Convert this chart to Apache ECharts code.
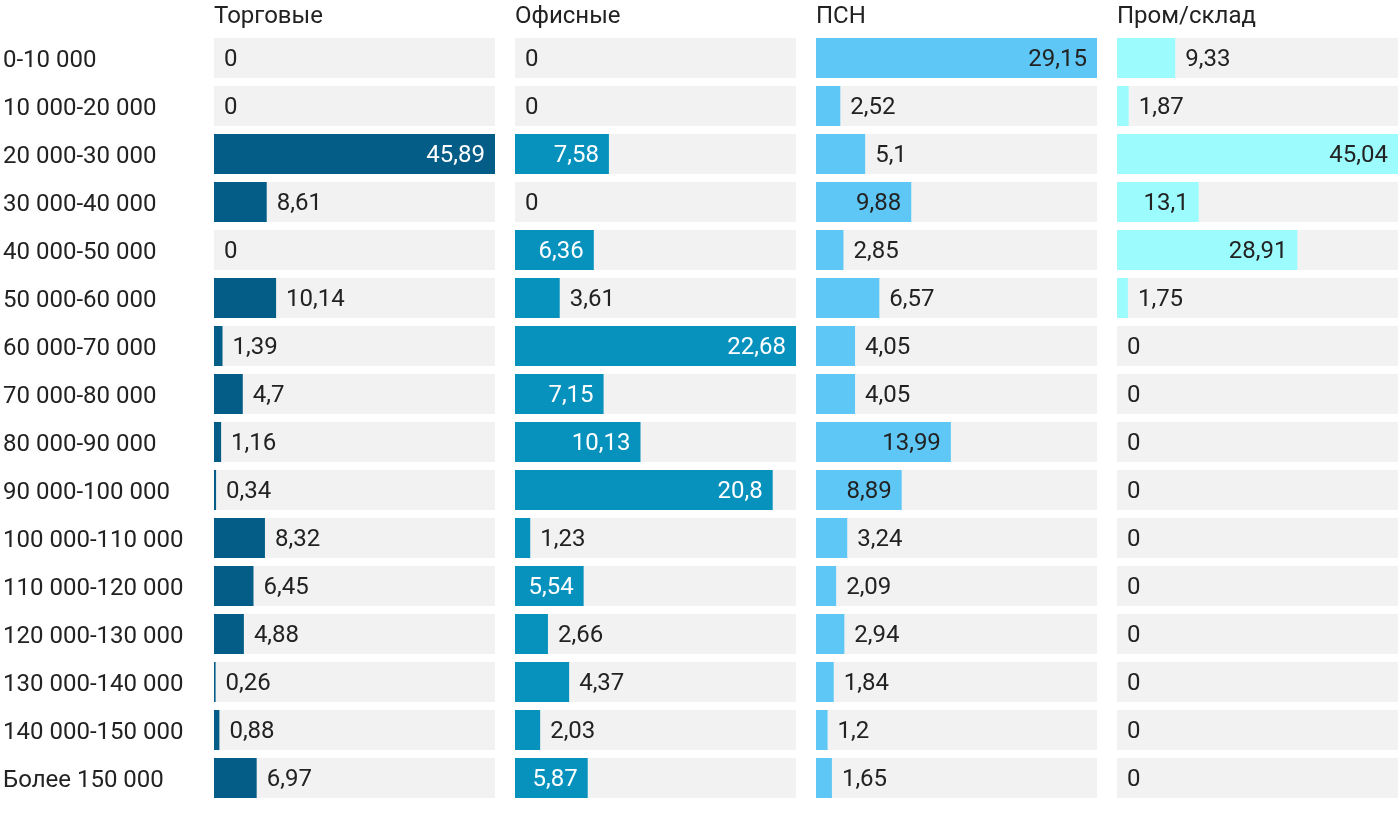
<!DOCTYPE html>
<html>
<head>
<meta charset="utf-8">
<script src="https://cdn.jsdelivr.net/npm/echarts@6/dist/echarts.min.js"></script>
<style>
  html, body { margin: 0; padding: 0; background: #fff; }
  #chart { width: 1400px; height: 814px; }
</style>
</head>
<body>
<div id="chart"></div>
<script>
const categories = [
  "0-10 000", "10 000-20 000", "20 000-30 000", "30 000-40 000",
  "40 000-50 000", "50 000-60 000", "60 000-70 000", "70 000-80 000",
  "80 000-90 000", "90 000-100 000", "100 000-110 000", "110 000-120 000",
  "120 000-130 000", "130 000-140 000", "140 000-150 000", "Более 150 000"
];
const panelTitles = ["Торговые", "Офисные", "ПСН", "Пром/склад"];
const torgovye = [0, 0, 45.89, 8.61, 0, 10.14, 1.39, 4.7, 1.16, 0.34, 8.32, 6.45, 4.88, 0.26, 0.88, 6.97];
const ofisnye = [0, 0, 7.58, 0, 6.36, 3.61, 22.68, 7.15, 10.13, 20.8, 1.23, 5.54, 2.66, 4.37, 2.03, 5.87];
const psn = [29.15, 2.52, 5.1, 9.88, 2.85, 6.57, 4.05, 4.05, 13.99, 8.89, 3.24, 2.09, 2.94, 1.84, 1.2, 1.65];
const promSklad = [9.33, 1.87, 45.04, 13.1, 28.91, 1.75, 0, 0, 0, 0, 0, 0, 0, 0, 0, 0];

const seriesData = [torgovye, ofisnye, psn, promSklad];
const barColors = ["#035d87", "#0792be", "#5ec7f5", "#9cfcfd"];
const insideText = ["#ffffff", "#ffffff", "#222222", "#222222"];

const chart = echarts.init(document.getElementById("chart"));

const panelLeft = 214, panelStep = 301, panelWidth = 281;
const fontFamily = "Roboto, sans-serif";
const textColor = "#222";
const fmt = v => String(v).replace(".", ",");

let grids = [], xAxes = [], yAxes = [], series = [], titles = [];

seriesData.forEach((vals, i) => {
  const max = Math.max.apply(null, vals);
  grids.push({ left: panelLeft + i * panelStep, width: panelWidth, top: 34, bottom: 12 });
  xAxes.push({ gridIndex: i, type: "value", min: 0, max: max, show: false });
  yAxes.push({
    gridIndex: i,
    type: "category",
    data: categories,
    inverse: true,
    axisLine: { show: false },
    axisTick: { show: false },
    splitLine: { show: false },
    axisLabel: {
      show: i === 0,
      align: "left",
      margin: 211,
      formatter: v => "{c|" + v + "}",
      rich: {
        c: {
          fontSize: 24,
          padding: [5, 0, 0, 0],
          color: textColor,
          fontFamily: fontFamily
        }
      }
    }
  });
  titles.push({
    text: panelTitles[i],
    left: panelLeft + i * panelStep,
    top: 5,
    padding: 0,
    textStyle: { fontSize: 24, fontWeight: "normal", color: textColor, fontFamily: fontFamily }
  });
  series.push({
    type: "bar",
    xAxisIndex: i,
    yAxisIndex: i,
    barWidth: 40,
    showBackground: true,
    backgroundStyle: { color: "#f2f2f2" },
    itemStyle: { color: barColors[i] },
    silent: true,
    data: vals.map(v => {
      const px = v / max * panelWidth;
      const inside = px >= 68;
      return {
        value: v,
        label: {
          show: true,
          position: inside ? "insideRight" : "right",
          distance: 10,
          offset: [0, 2],
          color: inside ? insideText[i] : textColor,
          fontSize: 24,
          fontFamily: fontFamily,
          formatter: p => fmt(p.value)
        }
      };
    })
  });
});

chart.setOption({
  animation: false,
  title: titles,
  grid: grids,
  xAxis: xAxes,
  yAxis: yAxes,
  series: series
});
</script>
</body>
</html>
